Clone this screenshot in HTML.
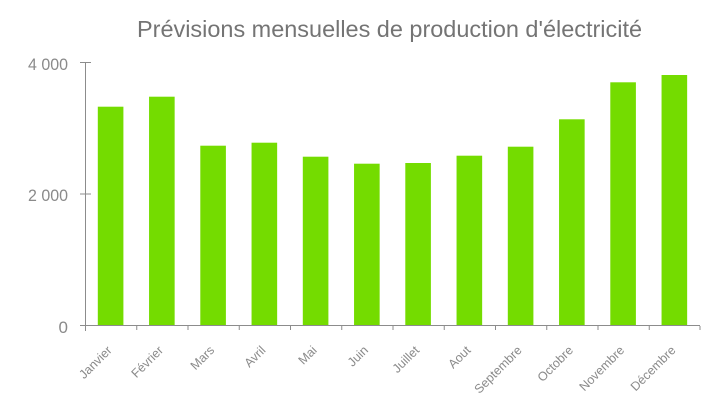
<!DOCTYPE html>
<html>
<head>
<meta charset="utf-8">
<style>
  html, body { margin: 0; padding: 0; background: #ffffff; }
  svg { display: block; }
  text { font-family: "Liberation Sans", sans-serif; }
</style>
</head>
<body>
<svg width="726" height="408" viewBox="0 0 726 408" xmlns="http://www.w3.org/2000/svg">
  <rect x="0" y="0" width="726" height="408" fill="#ffffff"/>
  <!-- Title -->
  <text x="137" y="37" font-size="23" fill="#747474" textLength="505" lengthAdjust="spacingAndGlyphs">Prévisions mensuelles de production d'électricité</text>

  <!-- Bars -->
  <g fill="#74dc00">
    <rect x="97.8" y="106.7" width="25.6" height="219.3"/>
    <rect x="149.05" y="96.7" width="25.6" height="229.3"/>
    <rect x="200.3" y="145.7" width="25.6" height="180.3"/>
    <rect x="251.55" y="142.7" width="25.6" height="183.3"/>
    <rect x="302.8" y="156.7" width="25.6" height="169.3"/>
    <rect x="354.05" y="163.7" width="25.6" height="162.3"/>
    <rect x="405.3" y="163" width="25.6" height="163"/>
    <rect x="456.55" y="155.7" width="25.6" height="170.3"/>
    <rect x="507.8" y="146.7" width="25.6" height="179.3"/>
    <rect x="559.05" y="119.3" width="25.6" height="206.7"/>
    <rect x="610.3" y="82.3" width="25.6" height="243.7"/>
    <rect x="661.55" y="75" width="25.6" height="251"/>
  </g>

  <!-- Axes -->
  <g stroke="#8c8c8c" stroke-width="1" fill="none">
    <line x1="85.5" y1="62" x2="85.5" y2="331"/>
    <line x1="80" y1="325.5" x2="700" y2="325.5"/>
    <line x1="80" y1="62.5" x2="91" y2="62.5"/>
    <line x1="80" y1="194" x2="91" y2="194"/>
    <line x1="136.75" y1="326" x2="136.75" y2="330"/>
    <line x1="188" y1="326" x2="188" y2="330"/>
    <line x1="239.25" y1="326" x2="239.25" y2="330"/>
    <line x1="290.5" y1="326" x2="290.5" y2="330"/>
    <line x1="341.75" y1="326" x2="341.75" y2="330"/>
    <line x1="393" y1="326" x2="393" y2="330"/>
    <line x1="444.25" y1="326" x2="444.25" y2="330"/>
    <line x1="495.5" y1="326" x2="495.5" y2="330"/>
    <line x1="546.75" y1="326" x2="546.75" y2="330"/>
    <line x1="598" y1="326" x2="598" y2="330"/>
    <line x1="649.25" y1="326" x2="649.25" y2="330"/>
    <line x1="700" y1="326" x2="700" y2="330"/>
  </g>

  <!-- Y tick labels -->
  <g font-size="17" fill="#8a8a8a" text-anchor="end" style="font-family:'Liberation Mono', monospace">
    <text x="68" y="70" textLength="40" lengthAdjust="spacingAndGlyphs">4 000</text>
    <text x="68" y="201" textLength="40" lengthAdjust="spacingAndGlyphs">2 000</text>
    <text x="68" y="333">0</text>
  </g>

  <!-- X tick labels -->
  <g font-size="12.5" fill="#8a8a8a" text-anchor="end">
    <text transform="translate(112.6,351) rotate(-45)">Janvier</text>
    <text transform="translate(163.9,351) rotate(-45)">Février</text>
    <text transform="translate(215.1,351) rotate(-45)">Mars</text>
    <text transform="translate(266.4,351) rotate(-45)">Avril</text>
    <text transform="translate(317.6,351) rotate(-45)">Mai</text>
    <text transform="translate(368.9,351) rotate(-45)">Juin</text>
    <text transform="translate(420.1,351) rotate(-45)">Juillet</text>
    <text transform="translate(471.4,351) rotate(-45)">Aout</text>
    <text transform="translate(522.6,351) rotate(-45)">Septembre</text>
    <text transform="translate(573.9,351) rotate(-45)">Octobre</text>
    <text transform="translate(625.1,351) rotate(-45)">Novembre</text>
    <text transform="translate(676.4,351) rotate(-45)">Décembre</text>
  </g>
</svg>
</body>
</html>
